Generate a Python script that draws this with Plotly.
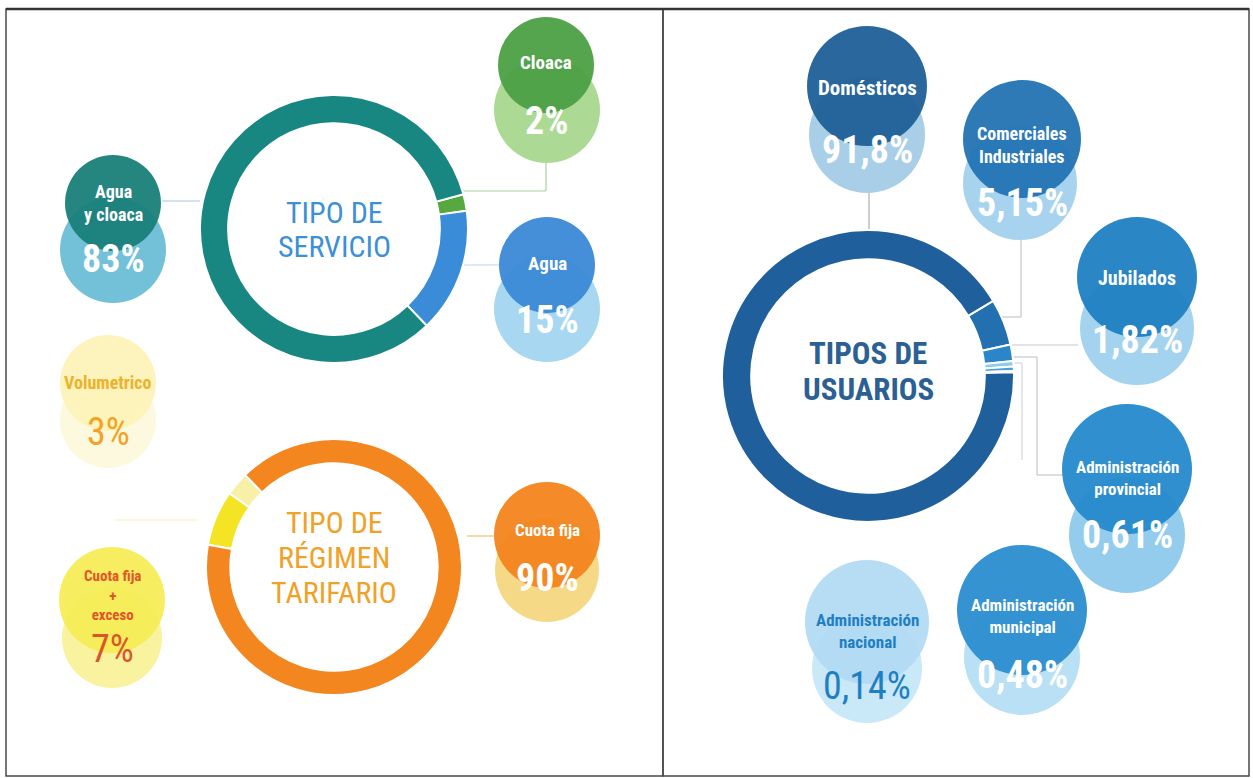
import plotly.graph_objects as go

# ---------------- data ----------------
servicio_labels = ["Cloaca", "Agua", "Agua y cloaca"]
servicio_values = [2, 15, 83]

regimen_labels = ["Cuota fija + exceso", "Volumetrico", "Cuota fija"]
regimen_values = [7, 3, 90]

usuarios_labels = ["Comerciales Industriales", "Jubilados", "Administración provincial",
                   "Administración municipal", "Administración nacional", "Domésticos"]
usuarios_values = [5.15, 1.82, 0.61, 0.48, 0.14, 91.8]

center_titles = ["TIPO DE<br>SERVICIO", "TIPO DE<br>RÉGIMEN<br>TARIFARIO", "TIPOS DE<br>USUARIOS"]

# ---------------- styling / layout ----------------
W, H = 1253, 778
FONT = "Roboto Condensed, Roboto, sans-serif"

servicio_colors = ["#56a83f", "#3b8cd8", "#188781"]
regimen_colors = ["#f4e424", "#f7f0a6", "#f3861f"]
usuarios_colors = ["#2370b0", "#2a86c8", "#8ccbee", "#4a9fd8", "#b4dcf3", "#1f5f9b"]

donuts = [
    dict(values=servicio_values, labels=servicio_labels, colors=servicio_colors,
         cx=334, cy=229, r=134, hole=0.79, rotation=75),
    dict(values=regimen_values, labels=regimen_labels, colors=regimen_colors,
         cx=334, cy=567, r=128, hole=0.81, rotation=280),
    dict(values=usuarios_values, labels=usuarios_labels, colors=usuarios_colors,
         cx=868, cy=376, r=146, hole=0.80, rotation=59),
]

title_style = [
    dict(cx=334, ys=[212, 246], color="#3d8fd6", size=30, bold=False),
    dict(cx=334, ys=[522, 557, 592], color="#f0a126", size=30, bold=False),
    dict(cx=868, ys=[353, 389], color="#2b6095", size=31, bold=True),
]


def pct(v):
    s = f"{v:g}".replace(".", ",")
    return s + "%"


bubble_names = {
    "Cloaca": "Cloaca",
    "Agua": "Agua",
    "Agua y cloaca": "Agua<br>y cloaca",
    "Volumetrico": "Volumetrico",
    "Cuota fija + exceso": "Cuota fija<br>+<br>exceso",
    "Cuota fija": "Cuota fija",
    "Domésticos": "Domésticos",
    "Comerciales Industriales": "Comerciales<br>Industriales",
    "Jubilados": "Jubilados",
    "Administración provincial": "Administración<br>provincial",
    "Administración municipal": "Administración<br>municipal",
    "Administración nacional": "Administración<br>nacional",
}

bubble_style = {
    "Cloaca": dict(d=(546, 65, 48, "#4ca044"), l=(547, 110, 53, "#acd994"),
                   ly=62, lsize=19, lcol="white", py=121, pcol="white", pbold=True),
    "Agua": dict(d=(547, 265, 48, "#3a89d6"), l=(547, 309, 53, "#a8d7f2"),
                 ly=263, lsize=19, lcol="white", py=320, pcol="white", pbold=True),
    "Agua y cloaca": dict(d=(113, 203, 48, "#197f79"), l=(113, 250, 53, "#72c1d9"),
                          ly=203, lsize=18, lcol="white", py=259, pcol="white", pbold=True),
    "Volumetrico": dict(d=(108, 383, 48, "#fcf3b8"), l=(108, 420, 48, "#fdf9de"),
                        ly=382, lsize=18, lcol="#eeb12c", py=432, pcol="#f3a225", pbold=False),
    "Cuota fija + exceso": dict(d=(112, 600, 53, "#f6ec57"), l=(112, 638, 50, "#f9f3a0"),
                                ly=595, lsize=15, lcol="#e2552a", py=649, pcol="#dc5429",
                                pbold=False),
    "Cuota fija": dict(d=(547, 535, 53, "#f3841c"), l=(547, 570, 52, "#f6d987"),
                       ly=530, lsize=17, lcol="white", py=578, pcol="white", pbold=True),
    "Domésticos": dict(d=(867, 86, 60, "#1e5f98"), l=(867, 135, 58, "#a9cee7"),
                       ly=88, lsize=21, lcol="white", py=150, pcol="white", pbold=True),
    "Comerciales Industriales": dict(d=(1022, 139, 59, "#2273b3"), l=(1020, 183, 57, "#a7d3ef"),
                                     ly=145, lsize=18, lcol="white", py=203, pcol="white",
                                     pbold=True),
    "Jubilados": dict(d=(1137, 277, 60, "#1f80c1"), l=(1137, 328, 57, "#a4d3ef"),
                      ly=278, lsize=20, lcol="white", py=340, pcol="white", pbold=True),
    "Administración provincial": dict(d=(1127, 469, 65, "#2589cb"), l=(1127, 535, 58, "#93cced"),
                                      ly=478, lsize=17, lcol="white", py=535, pcol="white",
                                      pbold=True),
    "Administración municipal": dict(d=(1022, 610, 65, "#2a8dd0"), l=(1022, 657, 58, "#b9e0f5"),
                                     ly=616, lsize=17, lcol="white", py=675, pcol="white",
                                     pbold=True),
    "Administración nacional": dict(d=(867, 622, 62, "#b2dbf3"), l=(867, 668, 55, "#c9e8f8"),
                                    ly=631, lsize=17, lcol="#1f7fc2", py=686, pcol="#1f7fc2",
                                    pbold=False),
}

connectors = [
    ([463, 546, 546], [191, 191, 162], "#a9d1a0"),
    ([463, 500], [265, 265], "#bcd6ea"),
    ([162, 200], [201, 201], "#9fcadb"),
    ([115, 197], [520, 520], "#f6efb5"),
    ([467, 494], [536, 536], "#f2c06a"),
    ([869, 869], [193, 231], "#a7b0b8"),
    ([1021, 1021, 1000], [240, 317, 317], "#c4c8cc"),
    ([1012, 1078], [345, 345], "#c4c8cc"),
    ([1012, 1037, 1037, 1063], [357, 357, 475, 475], "#c4c8cc"),
    ([1012, 1022, 1022], [363, 363, 460], "#d4d8dc"),
]

fig = go.Figure()

fig.add_trace(go.Scatter(x=[0, W], y=[0, H], mode="markers", marker=dict(opacity=0),
                         hoverinfo="skip", showlegend=False))

for d in donuts:
    fig.add_trace(go.Pie(
        values=d["values"], labels=d["labels"], hole=d["hole"], rotation=d["rotation"],
        direction="clockwise", sort=False, textinfo="none", showlegend=False,
        marker=dict(colors=d["colors"], line=dict(color="white", width=2)),
        domain=dict(x=[(d["cx"] - d["r"]) / W, (d["cx"] + d["r"]) / W],
                    y=[1 - (d["cy"] + d["r"]) / H, 1 - (d["cy"] - d["r"]) / H]),
        hovertemplate="%{label}: %{value}%<extra></extra>",
    ))

shapes = []
shapes.append(dict(type="rect", x0=6, y0=9, x1=663, y1=776, line=dict(color="#4a4a4a", width=1.5)))
shapes.append(dict(type="rect", x0=663, y0=9, x1=1249, y1=776, line=dict(color="#4a4a4a", width=1.5)))
shapes.append(dict(type="line", x0=6, y0=9, x1=1249, y1=9, line=dict(color="#333333", width=2.5)))

for xs, ys, col in connectors:
    for i in range(len(xs) - 1):
        shapes.append(dict(type="line", x0=xs[i], y0=ys[i], x1=xs[i + 1], y1=ys[i + 1],
                           line=dict(color=col, width=1.2), layer="below"))

annotations = []
all_values = dict(zip(servicio_labels, servicio_values))
all_values.update(zip(regimen_labels, regimen_values))
all_values.update(zip(usuarios_labels, usuarios_values))

for name, st in bubble_style.items():
    lx, ly, lr, lc = st["l"]
    dx, dy, dr, dc = st["d"]
    shapes.append(dict(type="circle", x0=lx - lr, y0=ly - lr, x1=lx + lr, y1=ly + lr,
                       fillcolor=lc, line=dict(width=0), layer="above"))
    shapes.append(dict(type="circle", x0=dx - dr, y0=dy - dr, x1=dx + dr, y1=dy + dr,
                       fillcolor=dc, line=dict(width=0), layer="above", opacity=0.95))
    label_txt = "<br>".join(f"<b>{t}</b>" for t in bubble_names[name].split("<br>"))
    annotations.append(dict(x=dx, y=st["ly"], text=label_txt, showarrow=False,
                            xanchor="center", yanchor="middle",
                            font=dict(family=FONT, size=st["lsize"], color=st["lcol"])))
    ptxt = pct(all_values[name])
    annotations.append(dict(x=dx, y=st["py"], text=(f"<b>{ptxt}</b>" if st["pbold"] else ptxt),
                            showarrow=False, xanchor="center", yanchor="middle",
                            font=dict(family=FONT, size=38, color=st["pcol"])))

for title, ts in zip(center_titles, title_style):
    for txt, y in zip(title.split("<br>"), ts["ys"]):
        annotations.append(dict(x=ts["cx"], y=y, text=(f"<b>{txt}</b>" if ts["bold"] else txt),
                                showarrow=False, xanchor="center", yanchor="middle",
                                font=dict(family=FONT, size=ts["size"], color=ts["color"])))

fig.update_layout(
    width=W, height=H, autosize=False,
    margin=dict(l=0, r=0, t=0, b=0),
    paper_bgcolor="white", plot_bgcolor="white",
    xaxis=dict(range=[0, W], visible=False, fixedrange=True, domain=[0, 1]),
    yaxis=dict(range=[H, 0], visible=False, fixedrange=True, domain=[0, 1]),
    shapes=shapes, annotations=annotations, showlegend=False,
)

fig.write_html("out.html", config={"displayModeBar": False},
               post_script="document.body.style.margin='0';document.body.style.overflow='hidden';")
